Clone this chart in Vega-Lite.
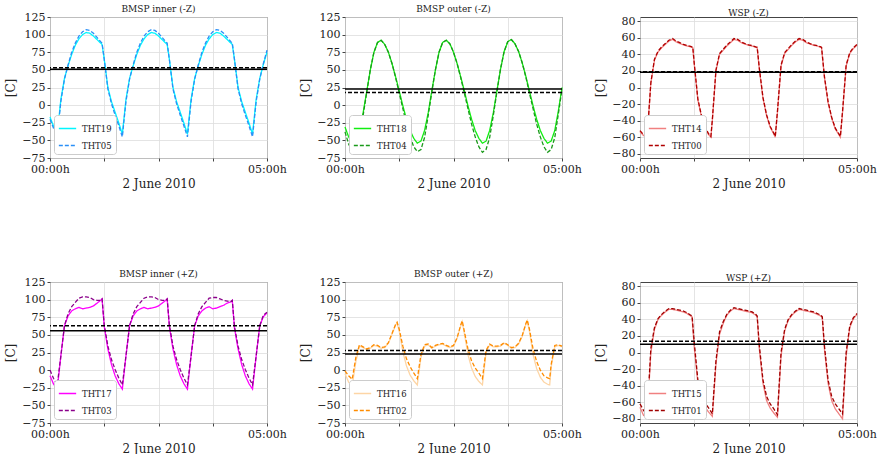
{
"$schema": "https://vega.github.io/schema/vega-lite/v6.json",
"padding": {"left": 4, "top": 4, "right": 0, "bottom": 0},
"columns": 3,
"spacing": {"row": 124, "column": 78},
"bounds": "flush",
"resolve": {"scale": {"color": "independent", "strokeDash": "independent", "x": "independent", "y": "independent"}, "legend": {"color": "independent", "strokeDash": "independent"}},
"concat": [
{"title": {"text": "BMSP inner (-Z)"}, "width": 217, "height": 141,
 "encoding": {
  "y": {"field": "v", "type": "quantitative", "scale": {"domain": [-75, 125], "nice": false, "zero": false}, "axis": {"title": "[C]", "values": [-75, -50, -25, 0, 25, 50, 75, 100, 125]}},
  "strokeDash": {"field": "s", "type": "nominal", "scale": {"domain": ["THT19", "THT05"], "range": [[1, 0], [4, 2]]}, "legend": {"title": null}}},
 "layer": [
  {"data": {"name": "p1"}, "mark": {"type": "line", "strokeWidth": 1.3},
   "encoding": {"x": {"field": "t", "type": "quantitative", "scale": {"domain": [0, 300], "nice": false}, "axis": {"title": "2 June 2010", "values": [0, 75, 150, 225, 300], "labelExpr": "datum.value == 0 ? '00:00h' : (datum.value == 300 ? '05:00h' : '')", "labelFlush": false, "labelOverlap": false}},
    "color": {"field": "s", "type": "nominal", "scale": {"domain": ["THT19", "THT05"], "range": ["#00f6ff", "#2a8ff7"]}, "legend": {"title": null}}}},
  {"data": {"name": "m1"}, "mark": {"type": "rule", "color": "black", "strokeWidth": 1.5}, "encoding": {}}
 ]},
{"title": {"text": "BMSP outer (-Z)"}, "width": 217, "height": 141,
 "encoding": {
  "y": {"field": "v", "type": "quantitative", "scale": {"domain": [-75, 125], "nice": false, "zero": false}, "axis": {"title": "[C]", "values": [-75, -50, -25, 0, 25, 50, 75, 100, 125]}},
  "strokeDash": {"field": "s", "type": "nominal", "scale": {"domain": ["THT18", "THT04"], "range": [[1, 0], [4, 2]]}, "legend": {"title": null}}},
 "layer": [
  {"data": {"name": "p2"}, "mark": {"type": "line", "strokeWidth": 1.3},
   "encoding": {"x": {"field": "t", "type": "quantitative", "scale": {"domain": [0, 300], "nice": false}, "axis": {"title": "2 June 2010", "values": [0, 75, 150, 225, 300], "labelExpr": "datum.value == 0 ? '00:00h' : (datum.value == 300 ? '05:00h' : '')", "labelFlush": false, "labelOverlap": false}},
    "color": {"field": "s", "type": "nominal", "scale": {"domain": ["THT18", "THT04"], "range": ["#11ee11", "#1a9a1a"]}, "legend": {"title": null}}}},
  {"data": {"name": "m2"}, "mark": {"type": "rule", "color": "black", "strokeWidth": 1.5}, "encoding": {}}
 ]},
{"title": {"text": "WSP (-Z)"}, "width": 217, "height": 141,
 "encoding": {
  "y": {"field": "v", "type": "quantitative", "scale": {"domain": [-85, 85], "nice": false, "zero": false}, "axis": {"title": "[C]", "values": [-80, -60, -40, -20, 0, 20, 40, 60, 80]}},
  "strokeDash": {"field": "s", "type": "nominal", "scale": {"domain": ["THT14", "THT00"], "range": [[1, 0], [4, 2]]}, "legend": {"title": null}}},
 "layer": [
  {"data": {"name": "p3"}, "mark": {"type": "line", "strokeWidth": 1.3},
   "encoding": {"x": {"field": "t", "type": "quantitative", "scale": {"domain": [0, 300], "nice": false}, "axis": {"title": "2 June 2010", "values": [0, 75, 150, 225, 300], "labelExpr": "datum.value == 0 ? '00:00h' : (datum.value == 300 ? '05:00h' : '')", "labelFlush": false, "labelOverlap": false}},
    "color": {"field": "s", "type": "nominal", "scale": {"domain": ["THT14", "THT00"], "range": ["#f08080", "#b00000"]}, "legend": {"title": null}}}},
  {"data": {"name": "m3"}, "mark": {"type": "rule", "color": "black", "strokeWidth": 1.5}, "encoding": {}}
 ]},
{"title": {"text": "BMSP inner (+Z)"}, "width": 217, "height": 141,
 "encoding": {
  "y": {"field": "v", "type": "quantitative", "scale": {"domain": [-75, 125], "nice": false, "zero": false}, "axis": {"title": "[C]", "values": [-75, -50, -25, 0, 25, 50, 75, 100, 125]}},
  "strokeDash": {"field": "s", "type": "nominal", "scale": {"domain": ["THT17", "THT03"], "range": [[1, 0], [4, 2]]}, "legend": {"title": null}}},
 "layer": [
  {"data": {"name": "p4"}, "mark": {"type": "line", "strokeWidth": 1.3},
   "encoding": {"x": {"field": "t", "type": "quantitative", "scale": {"domain": [0, 300], "nice": false}, "axis": {"title": "2 June 2010", "values": [0, 75, 150, 225, 300], "labelExpr": "datum.value == 0 ? '00:00h' : (datum.value == 300 ? '05:00h' : '')", "labelFlush": false, "labelOverlap": false}},
    "color": {"field": "s", "type": "nominal", "scale": {"domain": ["THT17", "THT03"], "range": ["#ff00ff", "#8b008b"]}, "legend": {"title": null}}}},
  {"data": {"name": "m4"}, "mark": {"type": "rule", "color": "black", "strokeWidth": 1.5}, "encoding": {}}
 ]},
{"title": {"text": "BMSP outer (+Z)"}, "width": 217, "height": 141,
 "encoding": {
  "y": {"field": "v", "type": "quantitative", "scale": {"domain": [-75, 125], "nice": false, "zero": false}, "axis": {"title": "[C]", "values": [-75, -50, -25, 0, 25, 50, 75, 100, 125]}},
  "strokeDash": {"field": "s", "type": "nominal", "scale": {"domain": ["THT16", "THT02"], "range": [[1, 0], [4, 2]]}, "legend": {"title": null}}},
 "layer": [
  {"data": {"name": "p5"}, "mark": {"type": "line", "strokeWidth": 1.3},
   "encoding": {"x": {"field": "t", "type": "quantitative", "scale": {"domain": [0, 300], "nice": false}, "axis": {"title": "2 June 2010", "values": [0, 75, 150, 225, 300], "labelExpr": "datum.value == 0 ? '00:00h' : (datum.value == 300 ? '05:00h' : '')", "labelFlush": false, "labelOverlap": false}},
    "color": {"field": "s", "type": "nominal", "scale": {"domain": ["THT16", "THT02"], "range": ["#fdd5a5", "#ff8c00"]}, "legend": {"title": null}}}},
  {"data": {"name": "m5"}, "mark": {"type": "rule", "color": "black", "strokeWidth": 1.5}, "encoding": {}}
 ]},
{"title": {"text": "WSP (+Z)"}, "width": 217, "height": 141,
 "encoding": {
  "y": {"field": "v", "type": "quantitative", "scale": {"domain": [-85, 85], "nice": false, "zero": false}, "axis": {"title": "[C]", "values": [-80, -60, -40, -20, 0, 20, 40, 60, 80]}},
  "strokeDash": {"field": "s", "type": "nominal", "scale": {"domain": ["THT15", "THT01"], "range": [[1, 0], [4, 2]]}, "legend": {"title": null}}},
 "layer": [
  {"data": {"name": "p6"}, "mark": {"type": "line", "strokeWidth": 1.3},
   "encoding": {"x": {"field": "t", "type": "quantitative", "scale": {"domain": [0, 300], "nice": false}, "axis": {"title": "2 June 2010", "values": [0, 75, 150, 225, 300], "labelExpr": "datum.value == 0 ? '00:00h' : (datum.value == 300 ? '05:00h' : '')", "labelFlush": false, "labelOverlap": false}},
    "color": {"field": "s", "type": "nominal", "scale": {"domain": ["THT15", "THT01"], "range": ["#f08080", "#a00000"]}, "legend": {"title": null}}}},
  {"data": {"name": "m6"}, "mark": {"type": "rule", "color": "black", "strokeWidth": 1.5}, "encoding": {}}
 ]}
],
"datasets": {
"m1": [{"s": "THT19", "v": 51}, {"s": "THT05", "v": 53}],
"m2": [{"s": "THT18", "v": 23}, {"s": "THT04", "v": 18}],
"m3": [{"s": "THT14", "v": 18.5}, {"s": "THT00", "v": 19}],
"m4": [{"s": "THT17", "v": 56}, {"s": "THT03", "v": 63}],
"m5": [{"s": "THT16", "v": 23}, {"s": "THT02", "v": 28}],
"m6": [{"s": "THT15", "v": 10}, {"s": "THT01", "v": 13.5}],
"p1": [
{"s":"THT19","t":0,"v":-17},{"s":"THT19","t":5,"v":-30},{"s":"THT19","t":10,"v":-41},{"s":"THT19","t":15,"v":8},{"s":"THT19","t":20,"v":38},{"s":"THT19","t":25,"v":56},{"s":"THT19","t":30,"v":72},{"s":"THT19","t":35,"v":85},{"s":"THT19","t":40,"v":94},{"s":"THT19","t":45,"v":100},{"s":"THT19","t":50,"v":103},{"s":"THT19","t":55,"v":102},{"s":"THT19","t":60,"v":98},{"s":"THT19","t":65,"v":93},{"s":"THT19","t":70,"v":88},{"s":"THT19","t":72,"v":86},{"s":"THT19","t":75,"v":65},{"s":"THT19","t":80,"v":25},{"s":"THT19","t":85,"v":5},{"s":"THT19","t":90,"v":-10},{"s":"THT19","t":95,"v":-25},
{"s":"THT19","t":100,"v":-41},{"s":"THT19","t":105,"v":8},{"s":"THT19","t":110,"v":38},{"s":"THT19","t":115,"v":56},{"s":"THT19","t":120,"v":72},{"s":"THT19","t":125,"v":85},{"s":"THT19","t":130,"v":94},{"s":"THT19","t":135,"v":100},{"s":"THT19","t":140,"v":103},{"s":"THT19","t":145,"v":102},{"s":"THT19","t":150,"v":98},{"s":"THT19","t":155,"v":93},{"s":"THT19","t":160,"v":88},{"s":"THT19","t":162,"v":86},{"s":"THT19","t":165,"v":65},{"s":"THT19","t":170,"v":25},{"s":"THT19","t":175,"v":5},{"s":"THT19","t":180,"v":-10},{"s":"THT19","t":185,"v":-25},
{"s":"THT19","t":190,"v":-41},{"s":"THT19","t":195,"v":8},{"s":"THT19","t":200,"v":38},{"s":"THT19","t":205,"v":56},{"s":"THT19","t":210,"v":72},{"s":"THT19","t":215,"v":85},{"s":"THT19","t":220,"v":94},{"s":"THT19","t":225,"v":100},{"s":"THT19","t":230,"v":103},{"s":"THT19","t":235,"v":102},{"s":"THT19","t":240,"v":98},{"s":"THT19","t":245,"v":93},{"s":"THT19","t":250,"v":88},{"s":"THT19","t":252,"v":86},{"s":"THT19","t":255,"v":65},{"s":"THT19","t":260,"v":25},{"s":"THT19","t":265,"v":5},{"s":"THT19","t":270,"v":-10},{"s":"THT19","t":275,"v":-25},
{"s":"THT19","t":280,"v":-41},{"s":"THT19","t":285,"v":8},{"s":"THT19","t":290,"v":38},{"s":"THT19","t":295,"v":58},{"s":"THT19","t":300,"v":75},
{"s":"THT05","t":0,"v":-20},{"s":"THT05","t":5,"v":-33},{"s":"THT05","t":10,"v":-45},{"s":"THT05","t":15,"v":5},{"s":"THT05","t":20,"v":37},{"s":"THT05","t":25,"v":57},{"s":"THT05","t":30,"v":75},{"s":"THT05","t":35,"v":88},{"s":"THT05","t":40,"v":98},{"s":"THT05","t":45,"v":104},{"s":"THT05","t":50,"v":107},{"s":"THT05","t":55,"v":106},{"s":"THT05","t":60,"v":102},{"s":"THT05","t":65,"v":96},{"s":"THT05","t":70,"v":90},{"s":"THT05","t":72,"v":88},{"s":"THT05","t":75,"v":65},{"s":"THT05","t":80,"v":23},{"s":"THT05","t":85,"v":2},{"s":"THT05","t":90,"v":-14},{"s":"THT05","t":95,"v":-29},
{"s":"THT05","t":100,"v":-45},{"s":"THT05","t":105,"v":5},{"s":"THT05","t":110,"v":37},{"s":"THT05","t":115,"v":57},{"s":"THT05","t":120,"v":75},{"s":"THT05","t":125,"v":88},{"s":"THT05","t":130,"v":98},{"s":"THT05","t":135,"v":104},{"s":"THT05","t":140,"v":107},{"s":"THT05","t":145,"v":106},{"s":"THT05","t":150,"v":102},{"s":"THT05","t":155,"v":96},{"s":"THT05","t":160,"v":90},{"s":"THT05","t":162,"v":88},{"s":"THT05","t":165,"v":65},{"s":"THT05","t":170,"v":23},{"s":"THT05","t":175,"v":2},{"s":"THT05","t":180,"v":-14},{"s":"THT05","t":185,"v":-29},
{"s":"THT05","t":190,"v":-45},{"s":"THT05","t":195,"v":5},{"s":"THT05","t":200,"v":37},{"s":"THT05","t":205,"v":57},{"s":"THT05","t":210,"v":75},{"s":"THT05","t":215,"v":88},{"s":"THT05","t":220,"v":98},{"s":"THT05","t":225,"v":104},{"s":"THT05","t":230,"v":107},{"s":"THT05","t":235,"v":106},{"s":"THT05","t":240,"v":102},{"s":"THT05","t":245,"v":96},{"s":"THT05","t":250,"v":90},{"s":"THT05","t":252,"v":88},{"s":"THT05","t":255,"v":65},{"s":"THT05","t":260,"v":23},{"s":"THT05","t":265,"v":2},{"s":"THT05","t":270,"v":-14},{"s":"THT05","t":275,"v":-29},
{"s":"THT05","t":280,"v":-45},{"s":"THT05","t":285,"v":5},{"s":"THT05","t":290,"v":37},{"s":"THT05","t":295,"v":59},{"s":"THT05","t":300,"v":78}
],
"p2": [
{"s":"THT18","t":0,"v":-31},{"s":"THT18","t":5,"v":-45},{"s":"THT18","t":10,"v":-53},{"s":"THT18","t":15,"v":-50},{"s":"THT18","t":20,"v":-36},{"s":"THT18","t":25,"v":-11},{"s":"THT18","t":30,"v":19},{"s":"THT18","t":35,"v":50},{"s":"THT18","t":40,"v":75},{"s":"THT18","t":45,"v":89},{"s":"THT18","t":50,"v":92},{"s":"THT18","t":55,"v":86},{"s":"THT18","t":60,"v":75},{"s":"THT18","t":65,"v":59},{"s":"THT18","t":70,"v":40},{"s":"THT18","t":75,"v":20},{"s":"THT18","t":80,"v":-1},{"s":"THT18","t":85,"v":-20},{"s":"THT18","t":90,"v":-36},{"s":"THT18","t":95,"v":-47},
{"s":"THT18","t":100,"v":-54},{"s":"THT18","t":105,"v":-51},{"s":"THT18","t":110,"v":-36},{"s":"THT18","t":115,"v":-11},{"s":"THT18","t":120,"v":20},{"s":"THT18","t":125,"v":50},{"s":"THT18","t":130,"v":75},{"s":"THT18","t":135,"v":89},{"s":"THT18","t":140,"v":92},{"s":"THT18","t":145,"v":87},{"s":"THT18","t":150,"v":75},{"s":"THT18","t":155,"v":59},{"s":"THT18","t":160,"v":40},{"s":"THT18","t":165,"v":20},{"s":"THT18","t":170,"v":-1},{"s":"THT18","t":175,"v":-20},{"s":"THT18","t":180,"v":-36},{"s":"THT18","t":185,"v":-47},
{"s":"THT18","t":190,"v":-54},{"s":"THT18","t":195,"v":-51},{"s":"THT18","t":200,"v":-36},{"s":"THT18","t":205,"v":-11},{"s":"THT18","t":210,"v":20},{"s":"THT18","t":215,"v":51},{"s":"THT18","t":220,"v":76},{"s":"THT18","t":225,"v":90},{"s":"THT18","t":230,"v":93},{"s":"THT18","t":235,"v":87},{"s":"THT18","t":240,"v":76},{"s":"THT18","t":245,"v":60},{"s":"THT18","t":250,"v":41},{"s":"THT18","t":255,"v":20},{"s":"THT18","t":260,"v":-1},{"s":"THT18","t":265,"v":-20},{"s":"THT18","t":270,"v":-36},{"s":"THT18","t":275,"v":-47},
{"s":"THT18","t":280,"v":-54},{"s":"THT18","t":285,"v":-51},{"s":"THT18","t":290,"v":-36},{"s":"THT18","t":295,"v":-8},{"s":"THT18","t":300,"v":25},
{"s":"THT04","t":0,"v":-38},{"s":"THT04","t":5,"v":-55},{"s":"THT04","t":10,"v":-66},{"s":"THT04","t":15,"v":-63},{"s":"THT04","t":20,"v":-46},{"s":"THT04","t":25,"v":-15},{"s":"THT04","t":30,"v":18},{"s":"THT04","t":35,"v":50},{"s":"THT04","t":40,"v":75},{"s":"THT04","t":45,"v":89},{"s":"THT04","t":50,"v":92},{"s":"THT04","t":55,"v":86},{"s":"THT04","t":60,"v":75},{"s":"THT04","t":65,"v":59},{"s":"THT04","t":70,"v":39},{"s":"THT04","t":75,"v":17},{"s":"THT04","t":80,"v":-5},{"s":"THT04","t":85,"v":-27},{"s":"THT04","t":90,"v":-45},{"s":"THT04","t":95,"v":-59},
{"s":"THT04","t":100,"v":-66},{"s":"THT04","t":105,"v":-63},{"s":"THT04","t":110,"v":-46},{"s":"THT04","t":115,"v":-15},{"s":"THT04","t":120,"v":19},{"s":"THT04","t":125,"v":50},{"s":"THT04","t":130,"v":75},{"s":"THT04","t":135,"v":89},{"s":"THT04","t":140,"v":92},{"s":"THT04","t":145,"v":87},{"s":"THT04","t":150,"v":75},{"s":"THT04","t":155,"v":59},{"s":"THT04","t":160,"v":39},{"s":"THT04","t":165,"v":17},{"s":"THT04","t":170,"v":-5},{"s":"THT04","t":175,"v":-27},{"s":"THT04","t":180,"v":-45},{"s":"THT04","t":185,"v":-59},
{"s":"THT04","t":190,"v":-67},{"s":"THT04","t":195,"v":-63},{"s":"THT04","t":200,"v":-46},{"s":"THT04","t":205,"v":-15},{"s":"THT04","t":210,"v":19},{"s":"THT04","t":215,"v":51},{"s":"THT04","t":220,"v":76},{"s":"THT04","t":225,"v":90},{"s":"THT04","t":230,"v":93},{"s":"THT04","t":235,"v":87},{"s":"THT04","t":240,"v":76},{"s":"THT04","t":245,"v":60},{"s":"THT04","t":250,"v":40},{"s":"THT04","t":255,"v":17},{"s":"THT04","t":260,"v":-5},{"s":"THT04","t":265,"v":-27},{"s":"THT04","t":270,"v":-45},{"s":"THT04","t":275,"v":-59},
{"s":"THT04","t":280,"v":-67},{"s":"THT04","t":285,"v":-63},{"s":"THT04","t":290,"v":-46},{"s":"THT04","t":295,"v":-12},{"s":"THT04","t":300,"v":22}
],
"p3": [
{"s":"THT14","t":0,"v":-53},{"s":"THT14","t":5,"v":-58},{"s":"THT14","t":10,"v":-59},{"s":"THT14","t":15,"v":5},{"s":"THT14","t":20,"v":33},{"s":"THT14","t":25,"v":43},{"s":"THT14","t":30,"v":48},{"s":"THT14","t":35,"v":52},{"s":"THT14","t":40,"v":56},{"s":"THT14","t":45,"v":58},{"s":"THT14","t":50,"v":55},{"s":"THT14","t":55,"v":53},{"s":"THT14","t":60,"v":51.5},{"s":"THT14","t":65,"v":50},{"s":"THT14","t":70,"v":49},{"s":"THT14","t":73,"v":48},{"s":"THT14","t":75,"v":28},{"s":"THT14","t":80,"v":-15},{"s":"THT14","t":85,"v":-35},{"s":"THT14","t":90,"v":-49},{"s":"THT14","t":95,"v":-57},{"s":"THT14","t":98,"v":-60},
{"s":"THT14","t":100,"v":-40},{"s":"THT14","t":105,"v":20},{"s":"THT14","t":110,"v":40},{"s":"THT14","t":115,"v":45},{"s":"THT14","t":120,"v":50},{"s":"THT14","t":125,"v":54},{"s":"THT14","t":130,"v":58},{"s":"THT14","t":135,"v":57},{"s":"THT14","t":140,"v":54},{"s":"THT14","t":145,"v":52.5},{"s":"THT14","t":150,"v":51},{"s":"THT14","t":155,"v":50},{"s":"THT14","t":160,"v":48.5},{"s":"THT14","t":162,"v":48},{"s":"THT14","t":165,"v":22},{"s":"THT14","t":170,"v":-13},{"s":"THT14","t":175,"v":-34},{"s":"THT14","t":180,"v":-48},{"s":"THT14","t":185,"v":-56},{"s":"THT14","t":187,"v":-60},
{"s":"THT14","t":190,"v":-30},{"s":"THT14","t":195,"v":26},{"s":"THT14","t":200,"v":41},{"s":"THT14","t":205,"v":46},{"s":"THT14","t":210,"v":51},{"s":"THT14","t":215,"v":55},{"s":"THT14","t":220,"v":58},{"s":"THT14","t":225,"v":57},{"s":"THT14","t":230,"v":54},{"s":"THT14","t":235,"v":52.5},{"s":"THT14","t":240,"v":51},{"s":"THT14","t":245,"v":50},{"s":"THT14","t":250,"v":48.5},{"s":"THT14","t":251,"v":48},{"s":"THT14","t":255,"v":12},{"s":"THT14","t":260,"v":-18},{"s":"THT14","t":265,"v":-37},{"s":"THT14","t":270,"v":-50},{"s":"THT14","t":275,"v":-57},{"s":"THT14","t":277,"v":-60},
{"s":"THT14","t":280,"v":-30},{"s":"THT14","t":285,"v":26},{"s":"THT14","t":290,"v":41},{"s":"THT14","t":295,"v":47},{"s":"THT14","t":300,"v":51},
{"s":"THT00","t":0,"v":-52},{"s":"THT00","t":5,"v":-57},{"s":"THT00","t":10,"v":-58},{"s":"THT00","t":15,"v":6},{"s":"THT00","t":20,"v":34},{"s":"THT00","t":25,"v":44},{"s":"THT00","t":30,"v":49},{"s":"THT00","t":35,"v":53},{"s":"THT00","t":40,"v":57},{"s":"THT00","t":45,"v":59},{"s":"THT00","t":50,"v":56},{"s":"THT00","t":55,"v":54},{"s":"THT00","t":60,"v":52},{"s":"THT00","t":65,"v":50.5},{"s":"THT00","t":70,"v":49.5},{"s":"THT00","t":73,"v":48.5},{"s":"THT00","t":75,"v":29},{"s":"THT00","t":80,"v":-14},{"s":"THT00","t":85,"v":-34},{"s":"THT00","t":90,"v":-48},{"s":"THT00","t":95,"v":-56},{"s":"THT00","t":98,"v":-59},
{"s":"THT00","t":100,"v":-39},{"s":"THT00","t":105,"v":21},{"s":"THT00","t":110,"v":41},{"s":"THT00","t":115,"v":46},{"s":"THT00","t":120,"v":51},{"s":"THT00","t":125,"v":55},{"s":"THT00","t":130,"v":59},{"s":"THT00","t":135,"v":58},{"s":"THT00","t":140,"v":55},{"s":"THT00","t":145,"v":53},{"s":"THT00","t":150,"v":51.5},{"s":"THT00","t":155,"v":50.5},{"s":"THT00","t":160,"v":49},{"s":"THT00","t":162,"v":48.5},{"s":"THT00","t":165,"v":23},{"s":"THT00","t":170,"v":-12},{"s":"THT00","t":175,"v":-33},{"s":"THT00","t":180,"v":-47},{"s":"THT00","t":185,"v":-55},{"s":"THT00","t":187,"v":-59},
{"s":"THT00","t":190,"v":-29},{"s":"THT00","t":195,"v":27},{"s":"THT00","t":200,"v":42},{"s":"THT00","t":205,"v":47},{"s":"THT00","t":210,"v":52},{"s":"THT00","t":215,"v":56},{"s":"THT00","t":220,"v":59},{"s":"THT00","t":225,"v":58},{"s":"THT00","t":230,"v":55},{"s":"THT00","t":235,"v":53},{"s":"THT00","t":240,"v":51.5},{"s":"THT00","t":245,"v":50.5},{"s":"THT00","t":250,"v":49},{"s":"THT00","t":251,"v":48.5},{"s":"THT00","t":255,"v":13},{"s":"THT00","t":260,"v":-17},{"s":"THT00","t":265,"v":-36},{"s":"THT00","t":270,"v":-49},{"s":"THT00","t":275,"v":-56},{"s":"THT00","t":277,"v":-59},
{"s":"THT00","t":280,"v":-29},{"s":"THT00","t":285,"v":27},{"s":"THT00","t":290,"v":42},{"s":"THT00","t":295,"v":48},{"s":"THT00","t":300,"v":52}
],
"p4": [
{"s":"THT17","t":0,"v":-8},{"s":"THT17","t":5,"v":-20},{"s":"THT17","t":10,"v":-27},{"s":"THT17","t":15,"v":20},{"s":"THT17","t":20,"v":63},{"s":"THT17","t":25,"v":77},{"s":"THT17","t":30,"v":84},{"s":"THT17","t":35,"v":87},{"s":"THT17","t":40,"v":89},{"s":"THT17","t":45,"v":87},{"s":"THT17","t":50,"v":88},{"s":"THT17","t":55,"v":89},{"s":"THT17","t":60,"v":91},{"s":"THT17","t":65,"v":95},{"s":"THT17","t":70,"v":99},{"s":"THT17","t":72,"v":101},{"s":"THT17","t":75,"v":62},{"s":"THT17","t":80,"v":30},{"s":"THT17","t":85,"v":8},{"s":"THT17","t":90,"v":-8},{"s":"THT17","t":95,"v":-19},
{"s":"THT17","t":100,"v":-27},{"s":"THT17","t":105,"v":20},{"s":"THT17","t":110,"v":63},{"s":"THT17","t":115,"v":77},{"s":"THT17","t":120,"v":84},{"s":"THT17","t":125,"v":87},{"s":"THT17","t":130,"v":89},{"s":"THT17","t":135,"v":87},{"s":"THT17","t":140,"v":88},{"s":"THT17","t":145,"v":89},{"s":"THT17","t":150,"v":91},{"s":"THT17","t":155,"v":95},{"s":"THT17","t":160,"v":99},{"s":"THT17","t":162,"v":101},{"s":"THT17","t":165,"v":62},{"s":"THT17","t":170,"v":30},{"s":"THT17","t":175,"v":8},{"s":"THT17","t":180,"v":-8},{"s":"THT17","t":185,"v":-19},
{"s":"THT17","t":190,"v":-27},{"s":"THT17","t":195,"v":20},{"s":"THT17","t":200,"v":63},{"s":"THT17","t":205,"v":77},{"s":"THT17","t":210,"v":84},{"s":"THT17","t":215,"v":88},{"s":"THT17","t":220,"v":90},{"s":"THT17","t":225,"v":87},{"s":"THT17","t":230,"v":88},{"s":"THT17","t":235,"v":90},{"s":"THT17","t":240,"v":92},{"s":"THT17","t":245,"v":95},{"s":"THT17","t":250,"v":97},{"s":"THT17","t":252,"v":99},{"s":"THT17","t":255,"v":60},{"s":"THT17","t":260,"v":30},{"s":"THT17","t":265,"v":8},{"s":"THT17","t":270,"v":-8},{"s":"THT17","t":275,"v":-19},
{"s":"THT17","t":280,"v":-27},{"s":"THT17","t":285,"v":20},{"s":"THT17","t":290,"v":63},{"s":"THT17","t":295,"v":76},{"s":"THT17","t":300,"v":81},
{"s":"THT03","t":0,"v":0},{"s":"THT03","t":5,"v":-12},{"s":"THT03","t":10,"v":-21},{"s":"THT03","t":15,"v":20},{"s":"THT03","t":20,"v":63},{"s":"THT03","t":25,"v":80},{"s":"THT03","t":30,"v":90},{"s":"THT03","t":35,"v":96},{"s":"THT03","t":40,"v":102},{"s":"THT03","t":45,"v":104},{"s":"THT03","t":50,"v":104},{"s":"THT03","t":55,"v":103},{"s":"THT03","t":60,"v":100},{"s":"THT03","t":65,"v":99},{"s":"THT03","t":70,"v":99},{"s":"THT03","t":72,"v":101},{"s":"THT03","t":75,"v":64},{"s":"THT03","t":80,"v":34},{"s":"THT03","t":85,"v":15},{"s":"THT03","t":90,"v":1},{"s":"THT03","t":95,"v":-11},
{"s":"THT03","t":100,"v":-21},{"s":"THT03","t":105,"v":20},{"s":"THT03","t":110,"v":63},{"s":"THT03","t":115,"v":80},{"s":"THT03","t":120,"v":90},{"s":"THT03","t":125,"v":96},{"s":"THT03","t":130,"v":102},{"s":"THT03","t":135,"v":104},{"s":"THT03","t":140,"v":104},{"s":"THT03","t":145,"v":103},{"s":"THT03","t":150,"v":100},{"s":"THT03","t":155,"v":99},{"s":"THT03","t":160,"v":99},{"s":"THT03","t":162,"v":101},{"s":"THT03","t":165,"v":64},{"s":"THT03","t":170,"v":34},{"s":"THT03","t":175,"v":15},{"s":"THT03","t":180,"v":1},{"s":"THT03","t":185,"v":-11},
{"s":"THT03","t":190,"v":-21},{"s":"THT03","t":195,"v":20},{"s":"THT03","t":200,"v":63},{"s":"THT03","t":205,"v":80},{"s":"THT03","t":210,"v":90},{"s":"THT03","t":215,"v":96},{"s":"THT03","t":220,"v":102},{"s":"THT03","t":225,"v":103},{"s":"THT03","t":230,"v":103},{"s":"THT03","t":235,"v":101},{"s":"THT03","t":240,"v":99},{"s":"THT03","t":245,"v":98},{"s":"THT03","t":250,"v":97},{"s":"THT03","t":252,"v":99},{"s":"THT03","t":255,"v":62},{"s":"THT03","t":260,"v":34},{"s":"THT03","t":265,"v":15},{"s":"THT03","t":270,"v":1},{"s":"THT03","t":275,"v":-11},
{"s":"THT03","t":280,"v":-21},{"s":"THT03","t":285,"v":20},{"s":"THT03","t":290,"v":63},{"s":"THT03","t":295,"v":78},{"s":"THT03","t":300,"v":82}
],
"p5": [
{"s":"THT16","t":0,"v":-5},{"s":"THT16","t":5,"v":-17},{"s":"THT16","t":10,"v":-22},{"s":"THT16","t":15,"v":12},{"s":"THT16","t":20,"v":34},{"s":"THT16","t":25,"v":32},{"s":"THT16","t":30,"v":29},{"s":"THT16","t":35,"v":31},{"s":"THT16","t":40,"v":35},{"s":"THT16","t":45,"v":34},{"s":"THT16","t":50,"v":31},{"s":"THT16","t":55,"v":32},{"s":"THT16","t":60,"v":38},{"s":"THT16","t":65,"v":51},{"s":"THT16","t":70,"v":64},{"s":"THT16","t":72,"v":67},{"s":"THT16","t":75,"v":55},{"s":"THT16","t":80,"v":26},{"s":"THT16","t":85,"v":6},{"s":"THT16","t":90,"v":-7},{"s":"THT16","t":95,"v":-15},
{"s":"THT16","t":100,"v":-21},{"s":"THT16","t":105,"v":18},{"s":"THT16","t":110,"v":34},{"s":"THT16","t":115,"v":36},{"s":"THT16","t":120,"v":31},{"s":"THT16","t":125,"v":34},{"s":"THT16","t":130,"v":36},{"s":"THT16","t":135,"v":37},{"s":"THT16","t":140,"v":34},{"s":"THT16","t":145,"v":32},{"s":"THT16","t":150,"v":34},{"s":"THT16","t":155,"v":45},{"s":"THT16","t":160,"v":63},{"s":"THT16","t":162,"v":69},{"s":"THT16","t":165,"v":52},{"s":"THT16","t":170,"v":22},{"s":"THT16","t":175,"v":3},{"s":"THT16","t":180,"v":-9},{"s":"THT16","t":185,"v":-16},
{"s":"THT16","t":190,"v":-21},{"s":"THT16","t":195,"v":25},{"s":"THT16","t":200,"v":36},{"s":"THT16","t":205,"v":33},{"s":"THT16","t":210,"v":33},{"s":"THT16","t":215,"v":34},{"s":"THT16","t":220,"v":38},{"s":"THT16","t":225,"v":35},{"s":"THT16","t":230,"v":31},{"s":"THT16","t":235,"v":32},{"s":"THT16","t":240,"v":37},{"s":"THT16","t":245,"v":48},{"s":"THT16","t":250,"v":65},{"s":"THT16","t":252,"v":70},{"s":"THT16","t":255,"v":55},{"s":"THT16","t":260,"v":22},{"s":"THT16","t":265,"v":2},{"s":"THT16","t":270,"v":-10},{"s":"THT16","t":275,"v":-17},
{"s":"THT16","t":280,"v":-20},{"s":"THT16","t":283,"v":-21},{"s":"THT16","t":285,"v":4},{"s":"THT16","t":290,"v":33},{"s":"THT16","t":295,"v":35},{"s":"THT16","t":300,"v":33},
{"s":"THT02","t":0,"v":-1},{"s":"THT02","t":5,"v":-8},{"s":"THT02","t":10,"v":-13},{"s":"THT02","t":15,"v":18},{"s":"THT02","t":20,"v":36},{"s":"THT02","t":25,"v":33},{"s":"THT02","t":30,"v":30},{"s":"THT02","t":35,"v":32},{"s":"THT02","t":40,"v":36},{"s":"THT02","t":45,"v":35},{"s":"THT02","t":50,"v":32},{"s":"THT02","t":55,"v":33},{"s":"THT02","t":60,"v":39},{"s":"THT02","t":65,"v":52},{"s":"THT02","t":70,"v":65},{"s":"THT02","t":72,"v":68},{"s":"THT02","t":75,"v":58},{"s":"THT02","t":80,"v":34},{"s":"THT02","t":85,"v":16},{"s":"THT02","t":90,"v":5},{"s":"THT02","t":95,"v":-4},
{"s":"THT02","t":100,"v":-12},{"s":"THT02","t":105,"v":22},{"s":"THT02","t":110,"v":36},{"s":"THT02","t":115,"v":37},{"s":"THT02","t":120,"v":32},{"s":"THT02","t":125,"v":35},{"s":"THT02","t":130,"v":37},{"s":"THT02","t":135,"v":38},{"s":"THT02","t":140,"v":35},{"s":"THT02","t":145,"v":33},{"s":"THT02","t":150,"v":35},{"s":"THT02","t":155,"v":46},{"s":"THT02","t":160,"v":64},{"s":"THT02","t":162,"v":70},{"s":"THT02","t":165,"v":55},{"s":"THT02","t":170,"v":30},{"s":"THT02","t":175,"v":13},{"s":"THT02","t":180,"v":3},{"s":"THT02","t":185,"v":-4},
{"s":"THT02","t":190,"v":-12},{"s":"THT02","t":195,"v":28},{"s":"THT02","t":200,"v":37},{"s":"THT02","t":205,"v":34},{"s":"THT02","t":210,"v":34},{"s":"THT02","t":215,"v":35},{"s":"THT02","t":220,"v":39},{"s":"THT02","t":225,"v":36},{"s":"THT02","t":230,"v":32},{"s":"THT02","t":235,"v":33},{"s":"THT02","t":240,"v":38},{"s":"THT02","t":245,"v":49},{"s":"THT02","t":250,"v":66},{"s":"THT02","t":252,"v":71},{"s":"THT02","t":255,"v":58},{"s":"THT02","t":260,"v":30},{"s":"THT02","t":265,"v":12},{"s":"THT02","t":270,"v":0},{"s":"THT02","t":275,"v":-8},
{"s":"THT02","t":280,"v":-11},{"s":"THT02","t":283,"v":-12},{"s":"THT02","t":285,"v":8},{"s":"THT02","t":290,"v":35},{"s":"THT02","t":295,"v":36},{"s":"THT02","t":300,"v":34}
],
"p6": [
{"s":"THT15","t":0,"v":-66},{"s":"THT15","t":5,"v":-76},{"s":"THT15","t":10,"v":-77},{"s":"THT15","t":15,"v":0},{"s":"THT15","t":20,"v":28},{"s":"THT15","t":25,"v":40},{"s":"THT15","t":30,"v":45},{"s":"THT15","t":35,"v":49},{"s":"THT15","t":40,"v":52},{"s":"THT15","t":45,"v":52},{"s":"THT15","t":50,"v":51},{"s":"THT15","t":55,"v":50},{"s":"THT15","t":60,"v":49},{"s":"THT15","t":65,"v":47},{"s":"THT15","t":70,"v":44},{"s":"THT15","t":72,"v":43},{"s":"THT15","t":75,"v":6},{"s":"THT15","t":80,"v":-37},{"s":"THT15","t":85,"v":-57},{"s":"THT15","t":90,"v":-66},{"s":"THT15","t":95,"v":-72},
{"s":"THT15","t":100,"v":-77},{"s":"THT15","t":105,"v":-14},{"s":"THT15","t":110,"v":22},{"s":"THT15","t":115,"v":35},{"s":"THT15","t":120,"v":45},{"s":"THT15","t":125,"v":50},{"s":"THT15","t":130,"v":53},{"s":"THT15","t":135,"v":52},{"s":"THT15","t":140,"v":51},{"s":"THT15","t":145,"v":50},{"s":"THT15","t":150,"v":49},{"s":"THT15","t":155,"v":48},{"s":"THT15","t":160,"v":45},{"s":"THT15","t":162,"v":43},{"s":"THT15","t":165,"v":4},{"s":"THT15","t":170,"v":-37},{"s":"THT15","t":175,"v":-58},{"s":"THT15","t":180,"v":-67},{"s":"THT15","t":185,"v":-73},
{"s":"THT15","t":190,"v":-78},{"s":"THT15","t":195,"v":-4},{"s":"THT15","t":200,"v":26},{"s":"THT15","t":205,"v":39},{"s":"THT15","t":210,"v":45},{"s":"THT15","t":215,"v":49},{"s":"THT15","t":220,"v":52},{"s":"THT15","t":225,"v":51},{"s":"THT15","t":230,"v":50},{"s":"THT15","t":235,"v":49},{"s":"THT15","t":240,"v":48},{"s":"THT15","t":245,"v":46},{"s":"THT15","t":250,"v":44},{"s":"THT15","t":252,"v":42},{"s":"THT15","t":255,"v":4},{"s":"THT15","t":260,"v":-37},{"s":"THT15","t":265,"v":-58},{"s":"THT15","t":270,"v":-68},{"s":"THT15","t":275,"v":-74},
{"s":"THT15","t":280,"v":-80},{"s":"THT15","t":285,"v":-4},{"s":"THT15","t":290,"v":30},{"s":"THT15","t":295,"v":41},{"s":"THT15","t":300,"v":46},
{"s":"THT01","t":0,"v":-62},{"s":"THT01","t":5,"v":-70},{"s":"THT01","t":10,"v":-74},{"s":"THT01","t":15,"v":5},{"s":"THT01","t":20,"v":30},{"s":"THT01","t":25,"v":41},{"s":"THT01","t":30,"v":46},{"s":"THT01","t":35,"v":50},{"s":"THT01","t":40,"v":53},{"s":"THT01","t":45,"v":53},{"s":"THT01","t":50,"v":52},{"s":"THT01","t":55,"v":51},{"s":"THT01","t":60,"v":50},{"s":"THT01","t":65,"v":48},{"s":"THT01","t":70,"v":45},{"s":"THT01","t":72,"v":44},{"s":"THT01","t":75,"v":12},{"s":"THT01","t":80,"v":-33},{"s":"THT01","t":85,"v":-52},{"s":"THT01","t":90,"v":-61},{"s":"THT01","t":95,"v":-67},
{"s":"THT01","t":100,"v":-74},{"s":"THT01","t":105,"v":-10},{"s":"THT01","t":110,"v":25},{"s":"THT01","t":115,"v":37},{"s":"THT01","t":120,"v":46},{"s":"THT01","t":125,"v":51},{"s":"THT01","t":130,"v":54},{"s":"THT01","t":135,"v":53},{"s":"THT01","t":140,"v":52},{"s":"THT01","t":145,"v":51},{"s":"THT01","t":150,"v":50},{"s":"THT01","t":155,"v":49},{"s":"THT01","t":160,"v":46},{"s":"THT01","t":162,"v":44},{"s":"THT01","t":165,"v":8},{"s":"THT01","t":170,"v":-33},{"s":"THT01","t":175,"v":-53},{"s":"THT01","t":180,"v":-62},{"s":"THT01","t":185,"v":-68},
{"s":"THT01","t":190,"v":-75},{"s":"THT01","t":195,"v":0},{"s":"THT01","t":200,"v":28},{"s":"THT01","t":205,"v":40},{"s":"THT01","t":210,"v":46},{"s":"THT01","t":215,"v":50},{"s":"THT01","t":220,"v":53},{"s":"THT01","t":225,"v":52},{"s":"THT01","t":230,"v":51},{"s":"THT01","t":235,"v":50},{"s":"THT01","t":240,"v":49},{"s":"THT01","t":245,"v":47},{"s":"THT01","t":250,"v":45},{"s":"THT01","t":252,"v":43},{"s":"THT01","t":255,"v":8},{"s":"THT01","t":260,"v":-33},{"s":"THT01","t":265,"v":-53},{"s":"THT01","t":270,"v":-62},{"s":"THT01","t":275,"v":-68},
{"s":"THT01","t":280,"v":-74},{"s":"THT01","t":285,"v":0},{"s":"THT01","t":290,"v":32},{"s":"THT01","t":295,"v":42},{"s":"THT01","t":300,"v":47}
]
},
"config": {
 "font": "DejaVu Serif",
 "view": {"stroke": "#444444", "strokeWidth": 1},
 "axis": {"labelFont": "DejaVu Serif", "labelFontSize": 11, "labelColor": "#222222", "titleFont": "DejaVu Serif", "titleFontSize": 12, "titleFontWeight": "normal", "titleColor": "#222222", "gridColor": "#dddddd", "gridWidth": 0.8, "domain": false, "tickColor": "#444444", "tickSize": 3, "labelPadding": 2, "titlePadding": 4},
 "legend": {"orient": "bottom-left", "offset": 4, "padding": 4, "fillColor": "white", "strokeColor": "#cccccc", "cornerRadius": 3, "labelFont": "DejaVu Serif", "labelFontSize": 8.5, "labelColor": "#222222", "symbolType": "stroke", "symbolSize": 300, "symbolStrokeWidth": 1.3, "rowPadding": 3, "labelOffset": 5},
 "title": {"font": "DejaVu Serif", "fontSize": 9, "fontWeight": "normal", "color": "#222222", "offset": -3}
}
}
